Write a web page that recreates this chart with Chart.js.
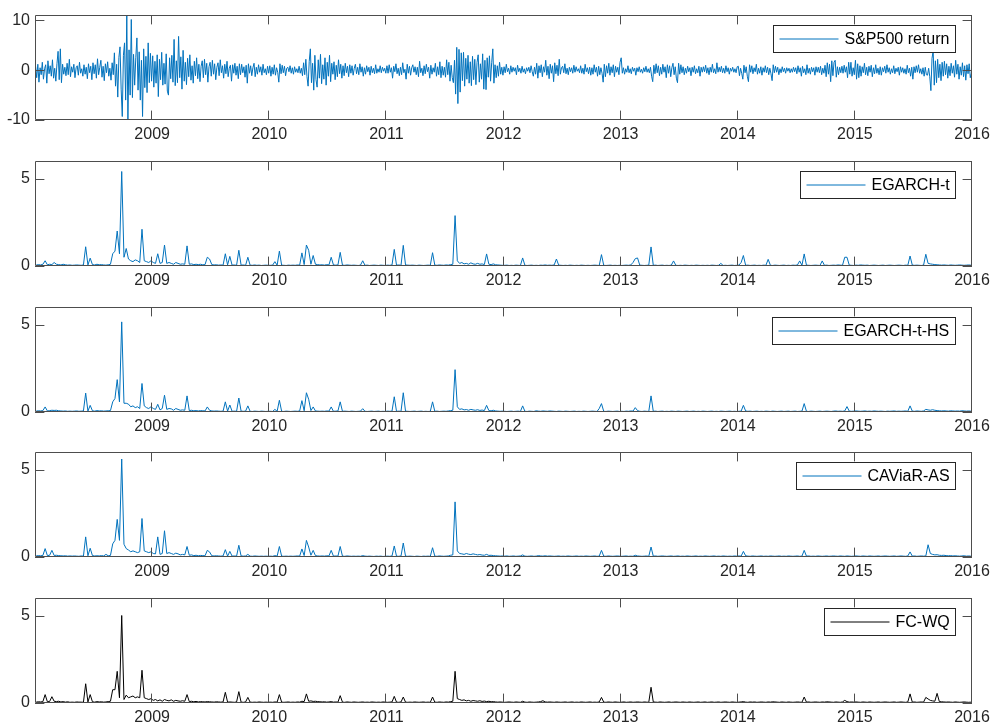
<!DOCTYPE html>
<html>
<head>
<meta charset="utf-8">
<title>S&amp;P500 return and loss series</title>
<script src="https://cdn.jsdelivr.net/npm/chart.js@4.4.1/dist/chart.umd.min.js"></script>
<style>
  html, body { margin: 0; padding: 0; background: #fff; overflow: hidden; }
  canvas { position: absolute; left: 0; }
</style>
</head>
<body>
<script>
// x axis: years 2008 .. 2016, ticks every year from 2009
const yearStart = 2008;
const yearEnd = 2016;
const yearTicks = [2009, 2010, 2011, 2012, 2013, 2014, 2015, 2016];
const returnTicks = [-10, 0, 10];
const lossTicks = [0, 5];

// S&P500 daily return (%) at ~2 samples per week
const spReturn = [
  0.8,-1.5,1.2,-2.4,0.5,-0.9,1.6,-1.8,0.3,1.1,-2.6,1.9,-0.7,0.9,-1.2,2.1,-1.6,0.4,-2.2,1.3,3.8,-1.9,4.3,-2.5,1.2,-0.8,
  0.6,-1.1,1.4,-0.9,2.2,-1.3,0.7,-0.4,1.2,-1.5,0.5,0.9,-1.0,1.6,-0.6,0.3,-1.2,1.1,-0.8,0.6,-1.7,1.3,-0.5,0.8,-1.9,1.5,
  -0.7,1.1,-1.6,2.3,-0.9,0.6,2.0,-1.4,0.8,-2.1,1.3,-0.5,1.7,-1.2,0.4,-2.0,1.5,-0.9,3.5,-3.2,1.2,-5.4,2.6,4.7,-3.8,-9.3,
  3.0,5.5,-6.0,10.9,-10.0,4.1,-5.0,10.2,-5.5,3.2,-3.0,2.5,6.5,-4.0,3.7,-6.0,2.0,-9.3,4.3,-3.5,2.8,-4.5,5.5,-2.5,3.4,-2.2,
  // 2009
  2.9,-3.4,1.8,-2.6,3.1,-5.3,2.2,-1.9,3.6,-3.0,1.4,-2.8,3.3,-4.2,-5.0,2.5,-1.7,3.0,-2.4,6.2,-3.1,1.9,-2.5,6.8,-1.5,2.7,
  -3.8,4.0,-2.2,1.6,-2.9,2.4,-1.3,3.1,-2.0,0.9,-2.6,1.8,-1.1,2.5,-1.7,1.2,-2.3,0.8,1.9,-1.5,2.2,-0.9,1.4,-2.4,0.7,1.6,
  -1.2,2.0,-0.8,1.3,-1.9,0.6,1.5,-1.1,2.1,-0.5,0.9,-1.6,1.2,-0.7,1.8,-1.3,0.4,1.0,-2.2,1.1,-0.6,1.4,-1.0,0.8,-1.7,1.3,
  -0.9,1.2,-0.5,0.7,-1.4,1.0,-2.6,1.3,-0.6,0.9,-1.1,0.5,1.4,-1.3,0.6,-0.8,1.1,-0.4,0.7,-1.0,1.2,-0.5,0.3,-0.9,0.8,-0.6,
  // 2010
  0.9,-1.2,0.6,-0.8,1.1,-1.0,0.5,-0.4,-2.4,1.3,-0.7,1.0,-0.5,0.8,-1.1,0.4,0.6,-0.3,0.9,-0.6,0.5,-0.8,0.7,-0.4,0.3,-0.5,
  0.8,-0.6,0.4,-1.1,1.5,-0.9,2.2,-1.3,-3.2,1.8,4.3,-2.5,1.4,-4.0,3.0,-1.9,-3.4,2.1,-1.6,3.2,-2.7,1.1,-1.8,2.5,-3.0,1.6,
  -1.2,3.0,-2.3,1.4,-0.8,1.7,-1.9,1.0,-1.3,2.1,-0.7,1.2,-1.6,0.9,-1.1,1.4,-0.5,0.8,-1.3,1.1,-0.6,0.9,-1.0,0.4,1.2,-0.7,
  0.6,-0.9,1.3,-0.4,0.7,-1.2,0.5,-0.8,0.9,-0.3,0.6,-1.0,0.8,-0.5,0.4,-0.7,1.1,-0.6,0.3,-0.4,0.9,-0.5,0.6,-0.2,0.4,-0.6,
  // 2011
  0.9,-0.6,1.1,-0.4,0.5,-1.6,0.8,-0.3,1.3,-0.7,0.4,-1.1,0.6,-0.9,1.5,-0.5,0.2,-1.8,1.2,-0.6,0.8,-1.0,0.5,1.1,-0.4,0.7,
  -0.9,0.6,-1.3,1.8,-0.5,0.4,-1.1,0.9,-0.7,1.2,-0.3,0.6,-1.6,1.0,-0.8,0.5,-0.4,1.4,-1.2,0.7,-0.9,1.7,-1.5,0.8,-1.0,0.6,
  -1.4,2.1,-0.9,1.6,-2.2,1.0,-1.5,-2.5,2.0,-4.8,4.6,-6.7,4.2,-4.4,3.5,-2.1,3.6,-3.2,2.4,-1.8,3.0,-2.6,1.7,-3.1,2.8,-1.9,
  2.2,-2.9,1.6,3.1,-2.4,1.3,-1.8,3.3,-3.8,2.0,-3.9,2.5,-1.4,2.9,-2.2,1.5,4.3,-2.6,1.1,-1.5,0.9,-1.2,1.6,-0.8,0.6,-1.0,
  // 2012
  0.7,-0.5,1.2,-0.3,0.4,-0.8,0.9,-0.4,0.6,-0.2,0.5,-0.9,1.0,-0.3,0.4,-0.6,0.8,-0.4,0.3,-0.7,0.5,-0.2,0.6,-0.5,0.9,-0.3,
  -1.2,0.6,-0.8,1.4,-1.6,0.9,-0.5,1.1,-1.3,0.7,-0.4,2.0,-1.0,0.8,-1.7,1.2,-0.6,0.9,-2.3,1.5,-0.7,1.0,-1.1,2.2,-0.8,0.5,
  0.8,-0.5,1.3,-0.7,0.4,-0.9,0.6,-0.3,0.5,-0.6,1.0,-0.4,0.7,-0.2,0.3,-0.5,0.9,-0.6,0.4,-0.8,1.2,-0.3,0.5,-0.7,0.6,-1.0,
  0.5,-0.8,1.1,-0.4,0.6,-1.2,0.8,-0.9,0.5,-0.6,-2.4,1.2,-1.3,0.9,-0.6,1.4,-1.0,0.7,-0.5,1.1,-1.3,0.8,-0.4,0.6,-0.9,1.6,
  // 2013
  2.5,-0.6,0.5,-0.8,0.3,-0.4,0.9,-0.5,0.3,-0.7,0.6,-0.2,0.4,-1.0,0.5,-0.3,0.7,-0.4,0.2,-0.6,0.5,-0.3,0.8,-0.4,0.3,-0.5,
  0.6,-1.2,-2.3,1.0,-0.7,1.3,-0.5,0.9,-1.1,0.6,-0.8,1.2,-0.4,0.7,-1.5,1.1,-0.6,0.9,-1.3,0.5,1.4,-0.9,0.7,-1.6,-2.5,1.4,
  -0.8,1.1,-0.5,0.7,-0.9,0.4,-0.6,0.8,-0.3,0.5,-1.1,0.6,-0.4,0.9,-0.7,0.3,-0.5,0.8,-1.2,0.6,-0.4,0.7,-0.3,1.0,-0.6,0.5,
  -0.9,0.6,-0.4,1.2,-0.5,0.3,-0.7,1.5,-0.4,0.6,-0.3,0.8,-0.5,0.4,-0.6,0.9,-0.3,0.5,-0.8,0.4,-0.2,0.6,-0.4,0.3,-0.5,0.7,
  // 2014
  0.8,-1.1,0.4,-0.6,-1.8,1.0,-0.5,0.7,-1.2,-2.3,1.1,-0.4,0.9,-0.7,0.5,-0.3,1.2,-0.8,0.4,-0.6,0.7,-1.0,0.5,-0.4,0.9,-0.5,
  0.6,-0.9,0.4,-0.7,-2.1,1.1,-0.5,0.8,-0.4,0.6,-0.9,0.3,-0.5,0.7,-0.3,0.4,-0.6,0.5,-0.2,0.4,-0.5,0.3,-0.4,0.6,-0.3,0.5,
  -0.7,0.9,-0.4,0.5,-1.2,0.8,-0.5,0.3,-0.9,1.1,-0.6,0.4,-0.8,0.6,-0.3,0.5,-1.0,0.7,-0.4,0.6,-0.5,0.8,-0.9,0.4,-0.6,1.0,
  -1.3,1.5,-0.8,1.2,-2.3,1.9,-1.1,1.6,2.0,-1.4,0.7,-0.9,0.6,-0.5,0.8,-0.6,1.0,-0.4,0.7,-1.5,1.6,-0.8,1.6,-1.2,0.5,-0.9,
  // 2015
  2.0,-1.8,1.3,-1.5,0.9,-1.2,0.7,-0.5,1.4,-0.9,0.6,-1.1,0.8,-0.4,1.0,-1.3,0.5,-0.7,1.1,-0.6,0.4,-0.9,0.7,-1.0,0.5,-0.3,
  0.8,-0.6,1.1,-0.4,0.5,-0.8,0.3,-0.5,0.9,-0.7,0.4,-0.3,0.6,-1.0,0.7,-0.4,0.5,-0.6,0.3,-0.8,1.0,-0.5,0.4,-1.2,0.6,-1.8,
  0.7,-0.5,0.9,-0.4,1.1,-0.6,0.3,-0.8,0.5,-1.2,0.6,-0.9,-1.0,0.4,-1.3,-4.1,2.4,3.9,-3.0,1.9,-2.5,2.2,-1.5,1.2,-2.1,1.6,
  -1.2,1.8,-0.9,1.3,-1.6,0.8,-1.1,1.4,-0.6,0.9,-1.4,2.0,-0.8,1.2,-1.8,0.7,-1.0,1.5,-1.3,0.9,-2.0,1.1,-0.7,1.3,-1.5,-0.6
];

// loss series, weekly samples, one row per year (2008 .. 2015)
const egarchT = [
  .05,.08,.06,.1,.3,.07,.1,.08,.2,.1,.08,.06,.1,.07,.05,.06,.04,.05,.06,.05,.04,.06,1.1,.06,.45,.08,.06,.1,.07,.08,.06,.05,.07,.1,.7,.85,2.0,.7,5.4,.5,1.0,.4,.3,.25,.35,.3,.2,2.1,.3,.25,.2,.3,
  .2,.15,.7,.15,.2,1.2,.15,.2,.15,.1,.2,.15,.1,.12,.1,1.15,.1,.12,.08,.1,.08,.1,.07,.08,.5,.4,.08,.06,.07,.05,.06,.05,.7,.06,.55,.05,.06,.04,.9,.05,.06,.04,.5,.05,.04,.06,.04,.05,.03,.04,.05,.04,
  .04,.05,.25,.04,.85,.05,.04,.03,.05,.04,.05,.04,.06,.05,.75,.08,1.2,.9,.1,.6,.1,.08,.06,.07,.05,.08,.06,.5,.06,.05,.06,.78,.05,.04,.06,.05,.04,.05,.04,.03,.05,.3,.04,.05,.03,.04,.05,.04,.03,.05,.04,.03,
  .05,.04,.06,.95,.05,.06,.04,1.18,.06,.05,.04,.05,.04,.03,.05,.04,.03,.04,.05,.04,.76,.05,.04,.06,.05,.04,.06,.05,.08,.1,2.88,.3,.15,.2,.12,.15,.1,.18,.12,.1,.15,.1,.12,.08,.69,.1,.08,.12,.07,.06,.05,.04,
  .04,.05,.03,.04,.03,.05,.04,.03,.46,.04,.03,.04,.05,.03,.04,.03,.05,.04,.06,.04,.05,.04,.06,.4,.05,.04,.03,.04,.03,.05,.04,.03,.04,.03,.05,.04,.03,.04,.03,.04,.05,.04,.03,.65,.04,.03,.04,.05,.03,.04,.03,.04,
  .03,.04,.05,.04,.06,.2,.42,.46,.05,.04,.03,.04,.05,1.09,.04,.05,.03,.04,.05,.03,.04,.03,.05,.29,.04,.03,.04,.03,.05,.04,.03,.04,.03,.05,.04,.03,.04,.03,.04,.03,.05,.04,.03,.04,.15,.03,.04,.03,.04,.05,.03,.04,
  .05,.2,.6,.04,.05,.03,.04,.05,.03,.04,.03,.05,.04,.38,.04,.03,.05,.04,.03,.04,.05,.03,.04,.03,.05,.04,.06,.29,.04,.69,.05,.04,.03,.04,.05,.04,.03,.29,.04,.05,.03,.04,.05,.04,.06,.05,.04,.5,.5,.05,.04,.03,
  .05,.04,.06,.05,.04,.05,.03,.04,.05,.04,.03,.04,.05,.03,.04,.05,.04,.03,.04,.05,.04,.03,.05,.04,.57,.05,.04,.05,.04,.03,.05,.67,.15,.12,.1,.08,.07,.06,.05,.06,.05,.04,.06,.05,.04,.05,.06,.05,.04,.05,.06,.05
];

const egarchTHS = [
  .05,.07,.06,.08,.29,.06,.08,.1,.09,.1,.07,.06,.05,.06,.04,.05,.04,.05,.06,.04,.05,.06,1.08,.05,.38,.07,.05,.08,.06,.07,.05,.06,.07,.08,.58,.77,1.85,.58,5.15,.5,.5,.45,.3,.35,.25,.3,.2,1.63,.35,.25,.2,.3,
  .2,.15,.44,.12,.2,.96,.15,.2,.18,.1,.2,.15,.1,.12,.1,.92,.08,.1,.07,.08,.06,.08,.07,.06,.29,.1,.06,.05,.06,.05,.04,.05,.58,.05,.4,.04,.05,.04,.8,.05,.04,.05,.35,.04,.03,.05,.04,.03,.05,.04,.03,.04,
  .04,.03,.15,.04,.67,.04,.03,.05,.04,.03,.04,.05,.04,.06,.65,.07,1.1,.73,.08,.29,.06,.05,.04,.05,.04,.06,.05,.29,.04,.05,.06,.58,.04,.05,.04,.03,.05,.04,.03,.04,.05,.19,.04,.03,.04,.05,.03,.04,.05,.03,.04,.03,
  .05,.04,.05,.87,.04,.05,.04,1.1,.05,.04,.03,.04,.05,.03,.04,.05,.03,.04,.03,.04,.58,.04,.05,.03,.04,.05,.04,.06,.08,.1,2.42,.3,.15,.18,.12,.14,.1,.15,.12,.1,.13,.09,.11,.08,.38,.08,.07,.1,.06,.05,.04,.05,
  .04,.03,.04,.05,.03,.04,.05,.03,.35,.04,.03,.05,.04,.03,.07,.05,.04,.06,.05,.04,.06,.05,.04,.03,.05,.04,.03,.05,.04,.03,.04,.05,.03,.04,.03,.05,.04,.03,.04,.05,.04,.03,.2,.48,.04,.03,.05,.04,.03,.04,.05,.03,
  .04,.03,.05,.04,.06,.05,.25,.08,.04,.03,.05,.04,.03,.92,.04,.05,.03,.04,.05,.03,.04,.03,.05,.04,.03,.05,.04,.03,.04,.05,.03,.04,.05,.03,.04,.03,.05,.04,.03,.04,.05,.03,.04,.03,.05,.04,.03,.04,.05,.03,.04,.03,
  .04,.05,.38,.06,.04,.05,.03,.04,.05,.03,.04,.03,.05,.04,.03,.05,.04,.03,.04,.05,.03,.04,.05,.03,.04,.05,.03,.04,.05,.48,.04,.03,.05,.04,.03,.04,.05,.03,.04,.05,.04,.03,.05,.06,.04,.05,.04,.06,.31,.05,.04,.05,
  .06,.05,.04,.05,.06,.04,.05,.04,.06,.05,.04,.05,.04,.03,.05,.04,.05,.06,.04,.05,.04,.05,.06,.04,.35,.05,.04,.06,.05,.04,.06,.15,.12,.1,.13,.1,.08,.07,.06,.07,.06,.05,.07,.06,.05,.06,.05,.07,.06,.05,.06,.05
];

const caviarAS = [
  .06,.08,.07,.09,.48,.08,.1,.38,.09,.1,.08,.07,.06,.07,.05,.06,.05,.06,.05,.04,.06,.05,1.15,.07,.5,.08,.06,.07,.06,.08,.06,.15,.07,.09,.75,.95,2.15,.95,5.6,.73,.48,.4,.3,.35,.3,.25,.3,2.2,.35,.3,.25,.3,
  .2,.18,1.15,.15,.2,1.5,.2,.25,.2,.15,.22,.18,.12,.15,.12,.6,.1,.12,.08,.1,.07,.09,.08,.07,.38,.29,.07,.06,.07,.06,.05,.06,.42,.05,.32,.05,.06,.05,.67,.06,.05,.06,.15,.05,.04,.06,.05,.04,.05,.04,.05,.04,
  .05,.04,.08,.05,.6,.05,.04,.05,.04,.05,.04,.05,.06,.05,.46,.08,.95,.57,.1,.38,.08,.06,.05,.06,.05,.07,.06,.38,.05,.06,.05,.6,.05,.04,.06,.05,.04,.05,.04,.05,.04,.08,.05,.04,.05,.04,.03,.05,.04,.05,.03,.04,
  .05,.04,.06,.63,.05,.04,.06,.8,.05,.04,.05,.04,.03,.05,.04,.03,.05,.04,.05,.04,.53,.05,.04,.06,.05,.04,.05,.06,.1,.12,3.15,.35,.2,.18,.15,.2,.16,.14,.18,.15,.12,.14,.11,.1,.15,.09,.1,.08,.07,.06,.05,.06,
  .05,.06,.04,.05,.06,.04,.05,.06,.12,.05,.04,.05,.06,.04,.05,.08,.06,.05,.07,.05,.06,.05,.04,.05,.06,.04,.05,.04,.06,.05,.04,.05,.06,.04,.05,.04,.06,.05,.04,.05,.06,.04,.05,.38,.05,.04,.06,.05,.04,.05,.06,.05,
  .04,.05,.06,.04,.05,.04,.1,.06,.05,.04,.05,.06,.04,.57,.05,.06,.04,.05,.06,.05,.04,.05,.06,.04,.05,.06,.04,.05,.04,.06,.05,.04,.05,.06,.04,.05,.04,.06,.05,.04,.05,.06,.04,.05,.04,.06,.05,.04,.05,.04,.06,.05,
  .06,.05,.32,.07,.05,.04,.06,.05,.04,.05,.06,.04,.05,.04,.06,.05,.04,.05,.06,.04,.05,.04,.06,.05,.04,.05,.06,.04,.05,.38,.05,.06,.04,.05,.04,.06,.05,.04,.05,.06,.04,.05,.06,.05,.04,.06,.05,.04,.06,.05,.04,.05,
  .06,.05,.04,.06,.05,.04,.06,.05,.04,.05,.06,.04,.05,.06,.05,.04,.05,.06,.04,.05,.06,.05,.04,.06,.29,.05,.06,.04,.05,.06,.05,.06,.7,.2,.15,.12,.13,.1,.09,.1,.08,.07,.08,.06,.07,.06,.05,.06,.07,.05,.06,.05
];

const fcWQ = [
  .05,.07,.06,.08,.48,.07,.09,.36,.1,.08,.1,.06,.08,.05,.07,.04,.05,.04,.06,.05,.05,.04,1.1,.06,.48,.07,.05,.08,.06,.07,.05,.06,.08,.1,.76,.76,1.81,.3,5.0,.2,.45,.3,.35,.4,.3,.35,.3,1.87,.3,.25,.2,.25,
  .15,.2,.12,.18,.1,.2,.15,.12,.18,.1,.15,.12,.1,.13,.1,.48,.08,.1,.07,.09,.06,.08,.07,.06,.08,.07,.06,.05,.07,.06,.05,.06,.61,.05,.06,.05,.04,.06,.65,.05,.04,.06,.32,.05,.04,.05,.04,.06,.05,.04,.05,.04,
  .05,.04,.06,.05,.48,.05,.04,.05,.06,.04,.05,.04,.06,.05,.1,.08,.52,.1,.12,.09,.1,.08,.07,.06,.07,.05,.06,.08,.05,.06,.05,.42,.05,.04,.06,.05,.04,.06,.05,.04,.05,.06,.04,.05,.04,.06,.05,.04,.05,.04,.06,.05,
  .04,.05,.06,.38,.05,.04,.06,.34,.05,.04,.05,.04,.06,.05,.04,.05,.06,.04,.05,.04,.34,.05,.04,.06,.05,.04,.06,.05,.08,.1,1.81,.25,.2,.15,.18,.12,.15,.1,.14,.12,.1,.13,.09,.11,.08,.1,.07,.08,.06,.05,.06,.05,
  .04,.05,.06,.05,.04,.06,.05,.04,.1,.05,.04,.06,.05,.04,.05,.06,.08,.13,.06,.05,.06,.05,.04,.06,.05,.04,.05,.06,.04,.05,.06,.04,.05,.04,.06,.05,.04,.05,.06,.04,.05,.04,.06,.32,.05,.04,.06,.05,.04,.06,.05,.04,
  .05,.06,.04,.05,.06,.04,.05,.06,.05,.04,.06,.05,.04,.9,.06,.05,.04,.06,.05,.04,.05,.06,.04,.05,.06,.05,.04,.06,.05,.04,.06,.05,.04,.05,.06,.04,.05,.06,.04,.05,.06,.04,.05,.06,.04,.05,.06,.05,.04,.06,.05,.04,
  .05,.06,.08,.05,.04,.06,.05,.06,.04,.05,.06,.05,.04,.06,.05,.07,.06,.05,.04,.06,.05,.04,.06,.05,.04,.05,.06,.05,.04,.34,.05,.06,.04,.05,.06,.05,.04,.06,.05,.07,.06,.05,.04,.06,.05,.04,.06,.15,.08,.05,.06,.05,
  .06,.05,.04,.06,.05,.04,.06,.05,.04,.05,.06,.04,.05,.06,.05,.04,.05,.06,.04,.05,.06,.05,.04,.06,.52,.05,.06,.04,.05,.06,.05,.32,.23,.15,.12,.1,.55,.08,.07,.06,.05,.06,.05,.04,.06,.05,.04,.05,.06,.05,.04,.05
];

const seriesNames = ["S&P500 return", "EGARCH-t", "EGARCH-t-HS", "CAViaR-AS", "FC-WQ"];

const blue = "#0072BD";
const frameColor = "#4d4d4d";
const fontFamily = '"Liberation Sans", Arial, Helvetica, sans-serif';

Chart.defaults.font.family = fontFamily;
Chart.defaults.font.size = 16;
Chart.defaults.color = "#262626";

// box, inward ticks on all four sides and a boxed legend, MATLAB style
const matlabFrame = {
    id: "matlabFrame",
    afterDatasetsDraw(chart, args, opts) {
        const { ctx, chartArea: a, scales } = chart;
        const tl = 9.4;
        ctx.save();
        ctx.strokeStyle = frameColor;
        ctx.lineWidth = 1;
        ctx.beginPath();
        ctx.rect(a.left + 0.5, a.top + 0.5, a.right - a.left - 1, a.bottom - a.top - 1);
        scales.x.ticks.forEach((t) => {
            const px = Math.round(scales.x.getPixelForValue(t.value)) - 0.5;
            ctx.moveTo(px, a.bottom);
            ctx.lineTo(px, a.bottom - tl);
            ctx.moveTo(px, a.top);
            ctx.lineTo(px, a.top + tl);
        });
        scales.y.ticks.forEach((t) => {
            const py = Math.round(scales.y.getPixelForValue(t.value)) + 0.5;
            ctx.moveTo(a.left, py);
            ctx.lineTo(a.left + tl, py);
            ctx.moveTo(a.right, py);
            ctx.lineTo(a.right - tl, py);
        });
        ctx.stroke();

        // legend
        ctx.font = "16px " + fontFamily;
        const tw = ctx.measureText(opts.label).width;
        const bw = Math.round(71 + tw + 6);
        const bh = 27;
        const bx = Math.round(a.right - 17 - bw) + 0.5;
        const by = Math.round(a.top + 10) + 0.5;
        ctx.fillStyle = "#ffffff";
        ctx.fillRect(bx, by, bw, bh);
        ctx.strokeStyle = "#262626";
        ctx.strokeRect(bx, by, bw, bh);
        ctx.strokeStyle = opts.color;
        ctx.beginPath();
        ctx.moveTo(bx + 6, by + bh / 2);
        ctx.lineTo(bx + 65, by + bh / 2);
        ctx.stroke();
        ctx.fillStyle = "#000000";
        ctx.textBaseline = "middle";
        ctx.textAlign = "left";
        ctx.fillText(opts.label, bx + 71, by + bh / 2 + 1);
        ctx.restore();
    },
};

function toPoints(values) {
    const step = (yearEnd - yearStart) / values.length;
    return values.map((v, i) => ({ x: yearStart + (i + 0.5) * step, y: v }));
}

function makePanel(top, label, values, color, yMin, yMax, yTicks) {
    const canvas = document.createElement("canvas");
    canvas.width = 990;
    canvas.height = 145;
    canvas.style.top = top + "px";
    document.body.appendChild(canvas);

    return new Chart(canvas, {
        type: "line",
        data: {
            datasets: [
                {
                    label: label,
                    data: toPoints(values),
                    borderColor: color,
                    borderWidth: 1,
                    pointRadius: 0,
                    tension: 0,
                    clip: 0,
                },
            ],
        },
        options: {
            responsive: false,
            animation: false,
            parsing: false,
            normalized: true,
            layout: { padding: { top: 15, right: 0, left: 0, bottom: 0 } },
            plugins: {
                legend: { display: false },
                tooltip: { enabled: false },
                matlabFrame: { label: label, color: color },
            },
            scales: {
                x: {
                    type: "linear",
                    min: yearStart,
                    max: yearEnd,
                    grid: { display: false, drawTicks: false },
                    border: { display: false },
                    afterBuildTicks: (s) => { s.ticks = yearTicks.map((v) => ({ value: v })); },
                    afterFit: (s) => {
                        s.height = 25;
                        s.paddingLeft = 0;
                        s.paddingRight = 18;
                    },
                    ticks: {
                        autoSkip: false,
                        maxRotation: 0,
                        padding: 5,
                        callback: (v) => String(v),
                    },
                },
                y: {
                    min: yMin,
                    max: yMax,
                    grid: { display: false, drawTicks: false },
                    border: { display: false },
                    afterBuildTicks: (s) => { s.ticks = yTicks.map((v) => ({ value: v })); },
                    afterFit: (s) => {
                        s.width = 35;
                        s.paddingTop = 0;
                        s.paddingBottom = 0;
                    },
                    ticks: {
                        padding: 5,
                        callback: (v) => String(v),
                    },
                },
            },
        },
        plugins: [matlabFrame],
    });
}

document.addEventListener("DOMContentLoaded", () => {
    makePanel(0, seriesNames[0], spReturn, blue, -10, 11.1, returnTicks);
    makePanel(146, seriesNames[1], egarchT, blue, 0, 6, lossTicks);
    makePanel(292, seriesNames[2], egarchTHS, blue, 0, 6, lossTicks);
    makePanel(437, seriesNames[3], caviarAS, blue, 0, 6, lossTicks);
    makePanel(583, seriesNames[4], fcWQ, "#000000", 0, 6, lossTicks);
});
</script>
</body>
</html>
